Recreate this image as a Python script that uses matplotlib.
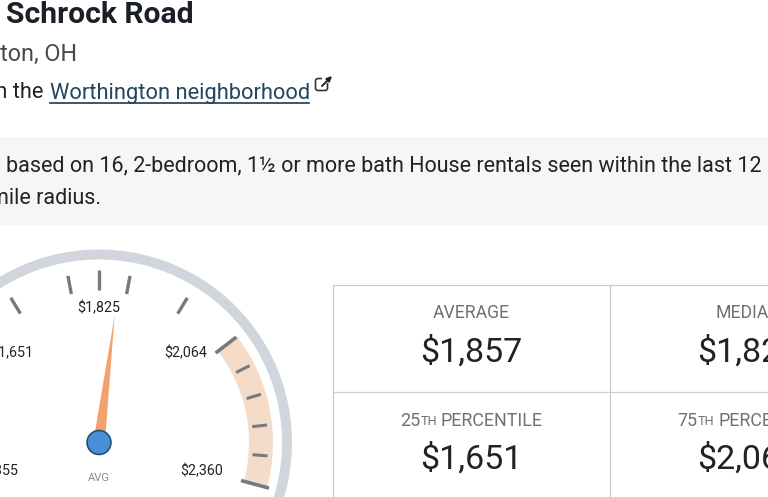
import matplotlib
matplotlib.use('Agg')
import matplotlib.pyplot as plt
import numpy as np
from matplotlib.patches import Wedge, Circle, Polygon, Rectangle, FancyBboxPatch

plt.rcParams['font.family'] = ['Roboto', 'DejaVu Sans']

# gauge data
scale_values = [1355, 1651, 1825, 2064, 2360]
scale_labels = ['$1,355', '$1,651', '$1,825', '$2,064', '$2,360']
minor_values = [1721, 1790, 1873, 1968]
band_values = [2123, 2182, 2242, 2301]
average = 1857

# table data
stat_names = ['AVERAGE', 'MEDIAN']
stat_values = ['$1,857', '$1,825']
pct_values = ['$1,651', '$2,064']

# gauge scale is linear between the labelled values
scale_angles = [-105, -52.5, 0, 52.5, 105]
cx, cy = 99, 442.5

def angle_of(v):
    return np.interp(v, scale_values, scale_angles)

def polar(v, r):
    a = np.radians(angle_of(v))
    return cx + r * np.sin(a), cy - r * np.cos(a)

def gauge_tick(ax, v, r0, r1, lw):
    x0, y0 = polar(v, r0)
    x1, y1 = polar(v, r1)
    ax.plot([x0, x1], [y0, y1], color='#77797c', lw=lw, solid_capstyle='butt')

fig = plt.figure(figsize=(7.68, 4.97), dpi=100)
ax = fig.add_axes([0, 0, 1, 1])
ax.set_xlim(0, 768)
ax.set_ylim(497, 0)
ax.axis('off')

# header text
ax.text(6, 15, 'Schrock Road', fontsize=21.7, fontweight='bold', color='#1b1f27', va='center')
ax.text(77, 55, 'gton, OH', fontsize=16.8, color='#4a4a4a', va='center', ha='right')
ax.text(43, 93, 'in the', fontsize=15.7, color='#222222', va='center', ha='right')
ax.text(50, 93, 'Worthington neighborhood', fontsize=15.75, color='#24465f', va='center')
ax.plot([50, 309], [103, 103], color='#1d3a52', lw=1.2)

# external link icon
ax.add_patch(FancyBboxPatch((317, 80), 9, 9, boxstyle='round,pad=1.5,rounding_size=2.5', fill=False, ec='#333333', lw=1.2))
ax.add_patch(Rectangle((322, 75), 11, 8, fc='white', ec='none', zorder=3))
ax.annotate('', xy=(332, 76), xytext=(322, 86), zorder=4,
            arrowprops=dict(arrowstyle='-|>', color='#222222', lw=1.4, mutation_scale=7, shrinkA=0, shrinkB=0))

# grey note box
ax.add_patch(Rectangle((0, 137), 768, 88, fc='#f5f6f7', ec='none'))
ax.text(6, 166, 'based on 16, 2-bedroom, 1½ or more bath House rentals seen within the last 12',
        fontsize=15.5, color='#222222', va='center')
ax.text(101, 199, 'mile radius.', fontsize=15.5, color='#222222', va='center', ha='right')

# gauge
ax.add_patch(Wedge((cx, cy), 193, 0, 360, width=10, fc='#d1d5dc', ec='none'))
ax.add_patch(Wedge((cx, cy), 174, angle_of(2064) - 90, angle_of(2360) - 90, width=24, fc='#f5dcc9', ec='none'))

for v in minor_values:
    gauge_tick(ax, v, 151, 169.5, 2.4)
gauge_tick(ax, 1825, 153, 173, 2.4)
gauge_tick(ax, 2064, 147, 173, 2.6)
gauge_tick(ax, 2360, 147, 176, 2.6)
for v in band_values:
    gauge_tick(ax, v, 154, 169, 2.2)

label_pos = [(18, 471, 'right'), (33, 353, 'right'), (99, 308, 'center'), (186, 353, 'center'), (202, 471, 'center')]
for lab, (x, y, ha) in zip(scale_labels, label_pos):
    ax.text(x, y, lab, fontsize=10.3, color='#222222', ha=ha, va='center')

a = np.radians(angle_of(average))
ux, uy = np.sin(a), -np.cos(a)
tip = polar(average, 128)
ax.add_patch(Polygon([(cx + 6 * uy, cy + 6 * ux), (cx - 6 * uy, cy - 6 * ux), tip],
                     closed=True, fc='#f4a26c', ec='none'))
ax.add_patch(Circle((cx, cy), 12, fc='#4a8ed8', ec='#1d4a70', lw=1.1, zorder=5))
ax.text(cx, 478, 'AVG', fontsize=8, color='#8a8a8a', ha='center', va='center')

# stats table
line_color = '#cccccc'
ax.plot([333, 768], [285, 285], color=line_color, lw=0.9)
ax.plot([333, 768], [392, 392], color=line_color, lw=0.9)
ax.plot([333, 333], [285, 497], color=line_color, lw=0.9)
ax.plot([610, 610], [285, 497], color=line_color, lw=0.9)

centers = [471, 748]
for x, name, val, pct in zip(centers, stat_names, stat_values, pct_values):
    ax.text(x, 313.5, name, fontsize=12.7, color='#707070', ha='center', va='center')
    ax.text(x, 352.5, val, fontsize=24.5, color='#222222', ha='center', va='center')
    ax.text(x, 459.5, pct, fontsize=24.5, color='#222222', ha='center', va='center')

for x0, x1, x2, num in [(400, 421, 441, '25'), (677, 698, 718, '75')]:
    ax.text(x0, 420.5, num, fontsize=12.9, color='#707070', va='center')
    ax.text(x1, 421.5, 'TH', fontsize=9.2, color='#707070', va='center')
    ax.text(x2, 420.5, 'PERCENTILE', fontsize=12.9, color='#707070', va='center')

fig.savefig('out.png', dpi=100)
